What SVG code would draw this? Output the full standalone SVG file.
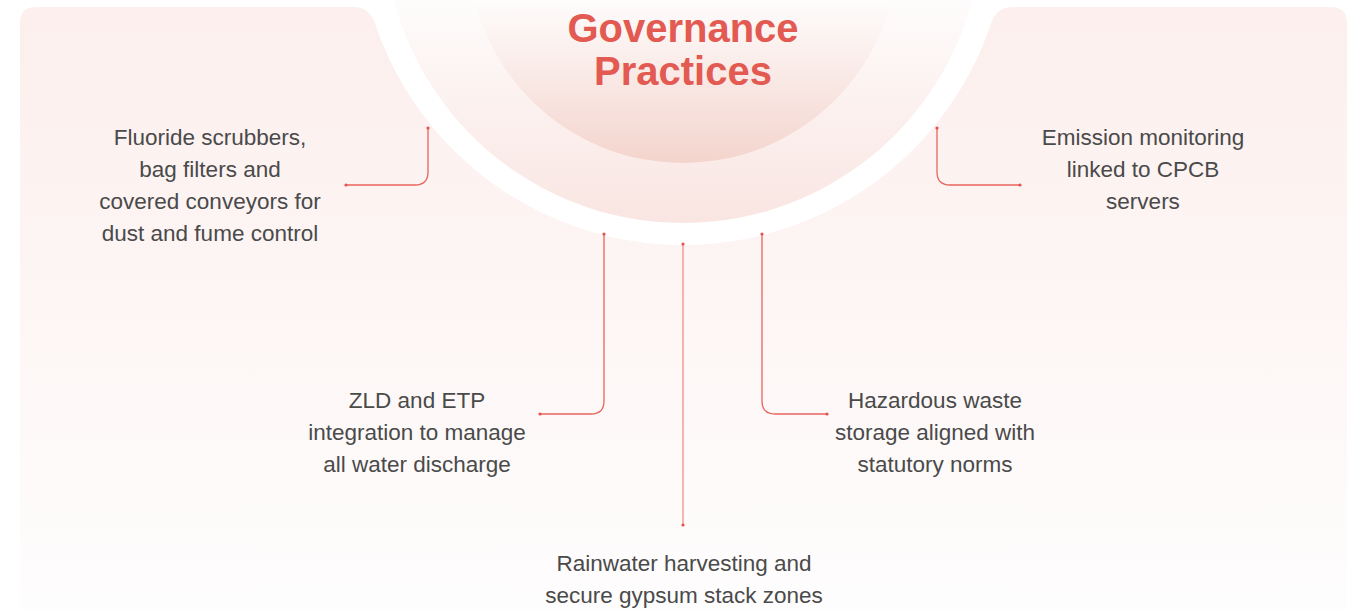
<svg xmlns="http://www.w3.org/2000/svg" width="1363" height="609" viewBox="0 0 1363 609">
<defs>
<linearGradient id="card" gradientUnits="userSpaceOnUse" x1="0" y1="7" x2="0" y2="609">
<stop offset="0" stop-color="#fcefed"/>
<stop offset="1" stop-color="#fefdfd"/>
</linearGradient>
<linearGradient id="mid" gradientUnits="userSpaceOnUse" x1="0" y1="0" x2="0" y2="223">
<stop offset="0" stop-color="#fefcfc"/>
<stop offset="1" stop-color="#f9e5e1"/>
</linearGradient>
<linearGradient id="inner" gradientUnits="userSpaceOnUse" x1="0" y1="0" x2="0" y2="163">
<stop offset="0" stop-color="#fefcfc"/>
<stop offset="1" stop-color="#f4d4cd"/>
</linearGradient>
<marker id="dot" viewBox="0 0 6 6" refX="3" refY="3" markerWidth="3.2" markerHeight="3.2" markerUnits="userSpaceOnUse">
<circle cx="3" cy="3" r="3" fill="#e5534b"/>
</marker>
</defs>
<style>
.lbl{font-family:"Liberation Sans",Arial,sans-serif;font-size:22.5px;fill:#4a4a4a;text-anchor:middle}
.title{font-family:"Liberation Sans",Arial,sans-serif;font-size:40px;font-weight:bold;fill:#e25a51;text-anchor:middle}
.conn{fill:none;stroke:#e8645d;stroke-width:1.3;marker-start:url(#dot);marker-end:url(#dot)}
</style>
<rect width="1363" height="609" fill="#ffffff"/>
<g id="background">
<path d="M20,23 Q20,7 36,7 H354 Q368,7 374,21 L683,200 L992,21 Q998,7 1012,7 H1331 Q1347,7 1347,23 V650 H20 Z" fill="url(#card)"/>
<circle cx="683" cy="-80" r="325" fill="#ffffff"/>
<circle cx="683" cy="-76" r="299" fill="url(#mid)"/>
<circle cx="683" cy="-52" r="215" fill="url(#inner)"/>
</g>
<g id="title">
<text class="title" x="683" y="42">Governance</text>
<text class="title" x="683" y="85">Practices</text>
</g>
<g id="connectors">
<path class="conn" d="M428,128 V172 Q428,185 415,185 H346"/>
<path class="conn" d="M937,128 V172 Q937,185 950,185 H1020"/>
<path class="conn" d="M604,234 V401 Q604,414 591,414 H540"/>
<path class="conn" d="M683,244 V525" stroke-opacity="0.7"/>
<path class="conn" d="M762,234 V401 Q762,414 775,414 H827"/>
</g>
<g id="node-fluoride">
<text class="lbl" x="210" y="145">Fluoride scrubbers,</text>
<text class="lbl" x="210" y="177">bag filters and</text>
<text class="lbl" x="210" y="209">covered conveyors for</text>
<text class="lbl" x="210" y="241">dust and fume control</text>
</g>
<g id="node-emission">
<text class="lbl" x="1143" y="145">Emission monitoring</text>
<text class="lbl" x="1143" y="177">linked to CPCB</text>
<text class="lbl" x="1143" y="209">servers</text>
</g>
<g id="node-zld">
<text class="lbl" x="417" y="408">ZLD and ETP</text>
<text class="lbl" x="417" y="440">integration to manage</text>
<text class="lbl" x="417" y="472">all water discharge</text>
</g>
<g id="node-hazardous">
<text class="lbl" x="935" y="408">Hazardous waste</text>
<text class="lbl" x="935" y="440">storage aligned with</text>
<text class="lbl" x="935" y="472">statutory norms</text>
</g>
<g id="node-rainwater">
<text class="lbl" x="684" y="571">Rainwater harvesting and</text>
<text class="lbl" x="684" y="603">secure gypsum stack zones</text>
</g>
</svg>
